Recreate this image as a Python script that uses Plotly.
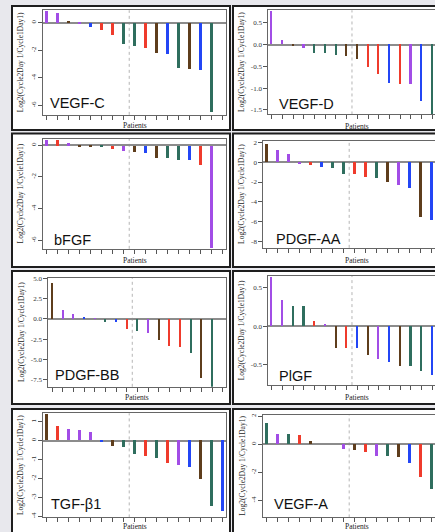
import plotly.graph_objects as go

W, H = 435, 532

# ---------------- data ----------------
panels = ["VEGF-C", "VEGF-D", "bFGF", "PDGF-AA", "PDGF-BB", "PlGF", "TGF-β1", "VEGF-A"]

vegfc_vals = [0.84, 0.72, 0.12, -0.12, -0.31, -0.55, -0.91, -1.56, -1.70, -1.82, -2.23, -2.28, -3.26, -3.36, -3.43, -6.48]
vegfc_grp = ["P", "P", "B", "P", "U", "R", "R", "G", "G", "R", "B", "U", "G", "B", "U", "G"]

vegfd_vals = [0.77, 0.11, -0.04, -0.08, -0.19, -0.19, -0.24, -0.26, -0.33, -0.52, -0.67, -0.88, -0.90, -0.90, -1.31, -1.62]
vegfd_grp = ["P", "P", "B", "P", "G", "G", "G", "B", "B", "R", "R", "U", "R", "P", "U", "G"]

bfgf_vals = [0.37, 0.33, 0.17, -0.04, -0.10, -0.12, -0.20, -0.33, -0.40, -0.48, -0.77, -0.81, -0.90, -0.92, -1.21, -6.46]
bfgf_grp = ["P", "R", "P", "B", "B", "G", "R", "P", "B", "U", "B", "G", "G", "U", "R", "P"]

pdgfaa_vals = [1.80, 1.23, 0.87, -0.13, -0.30, -0.43, -0.53, -1.13, -1.17, -1.43, -1.53, -2.00, -2.30, -2.53, -5.50, -5.80]
pdgfaa_grp = ["B", "P", "P", "P", "R", "U", "G", "G", "R", "R", "G", "B", "P", "U", "B", "U"]

pdgfbb_vals = [4.42, 1.07, 0.58, 0.17, 0.08, -0.33, -0.41, -1.28, -1.53, -1.78, -2.56, -3.35, -3.43, -4.21, -7.31, -8.50]
pdgfbb_grp = ["B", "P", "P", "U", "P", "G", "U", "R", "G", "P", "B", "R", "R", "G", "B", "G"]

plgf_vals = [0.645, 0.34, 0.27, 0.27, 0.074, 0.03, -0.286, -0.286, -0.286, -0.372, -0.424, -0.468, -0.515, -0.515, -0.58, -0.628]
plgf_grp = ["P", "P", "G", "G", "R", "P", "B", "R", "U", "B", "P", "U", "B", "G", "G", "U"]

tgfb1_vals = [1.40, 0.79, 0.58, 0.54, 0.45, -0.09, -0.31, -0.33, -0.70, -0.82, -0.91, -1.21, -1.28, -1.40, -2.01, -3.44, -3.74]
tgfb1_grp = ["B", "R", "P", "P", "P", "U", "B", "G", "G", "R", "G", "R", "P", "U", "B", "G", "U"]

vegfa_vals = [1.55, 0.75, 0.73, 0.66, 0.26, 0.0, 0.0, -0.33, -0.37, -0.54, -0.82, -0.82, -0.89, -1.33, -2.34, -3.16]
vegfa_grp = ["G", "P", "G", "R", "B", "B", "B", "P", "B", "R", "P", "G", "B", "U", "R", "G"]

series_vals = [vegfc_vals, vegfd_vals, bfgf_vals, pdgfaa_vals, pdgfbb_vals, plgf_vals, tgfb1_vals, vegfa_vals]
series_grp = [vegfc_grp, vegfd_grp, bfgf_grp, pdgfaa_grp, pdgfbb_grp, plgf_grp, tgfb1_grp, vegfa_grp]

ytick_vals = [
    [-6, -4, -2, 0],
    [-1.5, -1.0, -0.5, 0.0, 0.5],
    [-6, -4, -2, 0],
    [-8, -6, -4, -2, 0, 2],
    [-7.5, -5.0, -2.5, 0.0, 2.5, 5.0],
    [-0.5, 0.0, 0.5],
    [-4, -3, -2, -1, 0, 1],
    [-4, -2, 0, 2],
]
ytick_text = [
    ["-6", "-4", "-2", "0"],
    ["-1.5", "-1.0", "-0.5", "0.0", "0.5"],
    ["-6", "-4", "-2", "0"],
    ["-8", "-6", "-4", "-2", "0", "2"],
    ["-7.5", "-5.0", "-2.5", "0.0", "2.5", "5.0"],
    ["-0.5", "0.0", "0.5"],
    ["-4", "-3", "-2", "-1", "0", "1"],
    ["-4", "-2", "0", "2"],
]
y_ranges = [[-6.68, 0.915], [-1.605, 0.79], [-6.53, 0.41], [-8.6, 2.15],
            [-8.41, 5.08], [-0.767, 0.656], [-4.05, 1.45], [-5.2, 2.1]]
x_ranges = [[-0.31, 16.27], [-0.32, 15.26], [-0.31, 16.27], [-0.31, 15.30],
            [-0.375, 16.3], [-0.32, 15.26], [-0.31, 16.27], [-0.31, 15.30]]
n_ticks = 17
split_at = 7.5

x_title = "Patients"
y_title = "Log2(Cycle2Day 1/Cycle1Day1)"

# ---------------- layout geometry (pixels) ----------------
colors = {"P": "#a24de6", "B": "#5e3d1c", "U": "#2346f5", "R": "#ef3b2c", "G": "#2f6e5e"}

# plot frames: x0, x1, y0(top), y1(bottom)
frames = [
    (43.3, 225.7, 7.3, 112.7),
    (268.3, 435.0, 7.3, 112.3),
    (43.3, 225.7, 136.7, 247.7),
    (263.3, 435.0, 138.7, 246.7),
    (48.3, 226.1, 277.0, 386.7),
    (268.3, 435.0, 275.0, 385.0),
    (43.3, 225.7, 413.3, 518.3),
    (263.3, 435.0, 415.0, 518.3),
]
cards = [(12, 230, 3, 128), (233, 445, 3, 128),
         (12, 230, 131.5, 266), (233, 445, 131.5, 266),
         (12, 230, 270, 404), (233, 445, 270, 404),
         (12, 230, 409, 545), (233, 445, 409, 545)]
title_pos = [(48.3, 100.5), (277.3, 102), (51.7, 239), (274.3, 238),
             (53.3, 374.5), (277.3, 375.5), (49, 505), (271.7, 505)]
patients_pos = [(134.5, 123.5), (357, 124.5), (134.5, 259.5), (357, 259),
                (137, 397), (357, 397.5), (134.5, 527), (357, 527)]
ytitle_x = [20.7, 241.7, 20.7, 241.7, 21.7, 241.7, 20.7, 241.7]
tick_angle = [-90, 0, -90, 0, 0, 0, -90, -90]

fig = go.Figure()

def px_x(v):
    return v / W

def px_y(v):
    return 1 - v / H

shapes = []
annotations = []
for i, name in enumerate(panels):
    k = "" if i == 0 else str(i + 1)
    vals = series_vals[i]
    grp = series_grp[i]
    xs = list(range(len(vals)))
    fig.add_trace(go.Bar(
        x=xs, y=vals, width=0.2,
        marker=dict(color=[colors[g] for g in grp], line=dict(width=0)),
        xaxis="x" + k, yaxis="y" + k, showlegend=False, hoverinfo="skip",
    ))
    x0, x1, y0, y1 = frames[i]
    left_col = i % 2 == 0
    fig.layout["xaxis" + k] = dict(
        domain=[px_x(x0), px_x(x1)], anchor="y" + k, range=x_ranges[i],
        tickmode="array", tickvals=list(range(n_ticks)), showticklabels=False,
        ticks="outside", ticklen=4, tickcolor="#555", tickwidth=1,
        showgrid=False, zeroline=False, showline=True, linecolor="#666",
        linewidth=1, mirror=True, fixedrange=True,
    )
    fig.layout["yaxis" + k] = dict(
        domain=[px_y(y1), px_y(y0)], anchor="x" + k, range=y_ranges[i],
        tickmode="array", tickvals=ytick_vals[i], ticktext=ytick_text[i],
        ticks="outside", ticklen=4, tickcolor="#555", tickwidth=1,
        tickangle=tick_angle[i],
        tickfont=dict(family="Liberation Serif", size=7, color="#333"),
        showgrid=False, zeroline=True, zerolinecolor="#8c8c8c", zerolinewidth=2,
        showline=True, linecolor="#666", linewidth=1,
        mirror=True if left_col else False, fixedrange=True,
    )
    # card
    cx0, cx1, cy0, cy1 = cards[i]
    shapes.append(dict(type="rect", xref="paper", yref="paper",
                       x0=px_x(cx0), x1=px_x(cx1), y0=px_y(cy1), y1=px_y(cy0),
                       fillcolor="white", line=dict(color="#1e1e1e", width=2),
                       layer="below"))
    # dotted divider
    shapes.append(dict(type="line", xref="x" + k, yref="y" + k + " domain",
                       x0=split_at, x1=split_at, y0=0, y1=1,
                       line=dict(color="#b5b5b5", width=1, dash="dot"), layer="below"))
    tx, ty = title_pos[i]
    annotations.append(dict(text=name, x=px_x(tx), y=px_y(ty), xref="paper", yref="paper",
                            xanchor="left", yanchor="middle", showarrow=False,
                            font=dict(family="Liberation Sans", size=14.5, color="#111")))
    ptx, pty = patients_pos[i]
    annotations.append(dict(text=x_title, x=px_x(ptx), y=px_y(pty), xref="paper", yref="paper",
                            xanchor="center", yanchor="middle", showarrow=False,
                            font=dict(family="Liberation Serif", size=7.5, color="#222")))
    annotations.append(dict(text=y_title, x=px_x(ytitle_x[i]), y=px_y((y0 + y1) / 2),
                            xref="paper", yref="paper", textangle=-90,
                            xanchor="center", yanchor="middle", showarrow=False,
                            font=dict(family="Liberation Serif", size=7.5, color="#222")))

fig.update_layout(
    width=W, height=H, margin=dict(l=0, r=0, t=0, b=0),
    paper_bgcolor="#e8e8ed", plot_bgcolor="white",
    shapes=shapes, annotations=annotations, bargap=0,
)

fig.write_html(
    "out.html",
    config={"displayModeBar": False},
    post_script="document.body.style.margin='0';document.body.style.background='#e8e8ed';document.body.style.overflow='hidden';",
)
